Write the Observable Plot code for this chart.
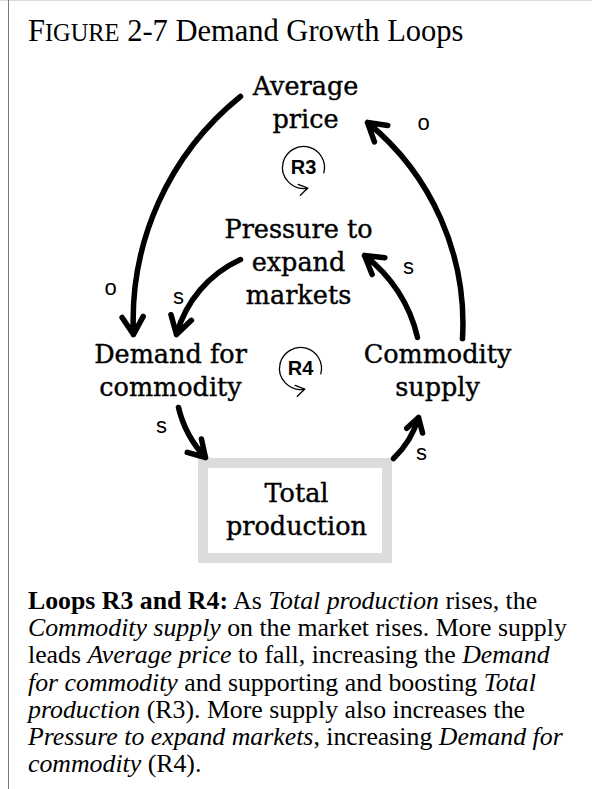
<!DOCTYPE html>
<html><head><meta charset="utf-8">
<script src="https://cdn.jsdelivr.net/npm/d3@7"></script>
<script src="https://cdn.jsdelivr.net/npm/@observablehq/plot@0.6"></script>
<style>
body{margin:0;background:#fff;}
#page{position:relative;width:592px;height:789px;overflow:hidden;background:#fff;}
#frameTop{position:absolute;left:0;top:0;width:592px;height:1px;background:#dadada;}
#frameLeft{position:absolute;left:8px;top:0;width:1px;height:789px;background:#7a7a7a;z-index:2;}
#title{position:absolute;left:28px;top:14px;font-family:"Liberation Serif",serif;font-size:30.5px;white-space:nowrap;color:#000;}
#title .sc{font-size:0.8em;}
#chart{position:absolute;left:0;top:50px;}
#caption{position:absolute;left:28px;top:587px;font-family:"Liberation Serif",serif;font-size:25.8px;line-height:27.2px;white-space:nowrap;color:#000;}
</style></head>
<body>
<div id="page">
  <div id="frameTop"></div>
  <div id="frameLeft"></div>
  <div id="title">F<span class="sc">IGURE</span> 2-7 Demand Growth Loops</div>
  <div id="chart"></div>
  <div id="caption"><b>Loops R3 and R4:</b> As <i>Total production</i> rises, the<br><i>Commodity supply</i> on the market rises. More supply<br>leads <i>Average price</i> to fall, increasing the <i>Demand</i><br><i>for commodity</i> and supporting and boosting <i>Total</i><br><i>production</i> (R3). More supply also increases the<br><i>Pressure to expand markets</i>, increasing <i>Demand for</i><br><i>commodity</i> (R4).</div>
</div>
<script>
// ---- data ----
const nodeLabels = ["Average\nprice", "Pressure to\nexpand\nmarkets", "Demand for\ncommodity", "Commodity\nsupply", "Total\nproduction"];
const nodeX = [305, 298, 170, 437, 296];
const nodeY = [100, 260, 368, 368, 507];

// causal links (start -> end), bend in degrees
const linkX1 = [240, 462, 240, 417, 178, 393];
const linkY1 = [96, 338, 259, 337, 407, 458];
const linkX2 = [133, 367, 176, 364, 205, 418];
const linkY2 = [334, 122, 334, 255, 457, 417];
const linkBend = [-27, -27, -25, -20, -15, -15];

// polarity labels
const polarity = ["o", "s", "o", "s", "s", "s"];
const polX = [423, 408, 110, 178, 161, 421];
const polY = [122, 266, 287, 296, 425, 452];

// loop identifiers
const loopNames = ["R3", "R4"];
const loopX = [303, 300];
const loopY = [167, 368];
const loopR = [21, 21];

// box around the stock
const boxX1 = [203], boxX2 = [387], boxY1 = [463], boxY2 = [558];

// ---- build ----
const W = 592, TOP = 50, H = 520;
const nodes = nodeLabels.map((t, i) => ({t, x: nodeX[i], y: nodeY[i]}));
const links = linkX1.map((_, i) => ({x1: linkX1[i], y1: linkY1[i], x2: linkX2[i], y2: linkY2[i], bend: linkBend[i]}));
const pols = polarity.map((t, i) => ({t, x: polX[i], y: polY[i]}));
const boxes = boxX1.map((_, i) => ({x1: boxX1[i], x2: boxX2[i], y1: boxY1[i], y2: boxY2[i]}));
const rad = Math.PI / 180;
const pt = (i, a) => [loopX[i] + loopR[i] * Math.cos(a * rad), loopY[i] + loopR[i] * Math.sin(a * rad)];
const loopArcA = [], loopArcB = [];
loopNames.forEach((n, i) => {
  const a = pt(i, 15), b = pt(i, -165), c = pt(i, -282);
  loopArcA.push({x1: a[0], y1: a[1], x2: b[0], y2: b[1]});
  loopArcB.push({x1: b[0], y1: b[1], x2: c[0], y2: c[1]});
});
const loops = loopNames.map((t, i) => ({t, x: loopX[i], y: loopY[i]}));

const marks = [
  Plot.rect(boxes, {x1: "x1", x2: "x2", y1: "y1", y2: "y2", fill: "white", stroke: "#dcdcdc", strokeWidth: 10}),
  ...links.map(d => Plot.arrow([d], {x1: "x1", y1: "y1", x2: "x2", y2: "y2", bend: d.bend, stroke: "black", strokeWidth: 5.5, headLength: 5.6, headAngle: 62, strokeLinecap: "round", strokeLinejoin: "round"})),
  Plot.arrow(loopArcA, {x1: "x1", y1: "y1", x2: "x2", y2: "y2", bend: -90, stroke: "black", strokeWidth: 1.3, headLength: 0}),
  Plot.arrow(loopArcB, {x1: "x1", y1: "y1", x2: "x2", y2: "y2", bend: -58, stroke: "black", strokeWidth: 1.3, headLength: 12, headAngle: 64}),
  Plot.text(nodes, {x: "x", y: "y", text: "t", fontFamily: "DejaVu Serif", fontSize: 25.5, lineHeight: 1.3, lineAnchor: "middle", textAnchor: "middle", fill: "black", stroke: "black", strokeWidth: 0.4}),
  Plot.text(pols, {x: "x", y: "y", text: "t", fontFamily: "Liberation Sans", fontSize: 22, lineAnchor: "middle", textAnchor: "middle", fill: "black"}),
  Plot.text(loops, {x: "x", y: "y", text: "t", fontFamily: "Liberation Sans", fontWeight: "bold", fontSize: 20, lineAnchor: "middle", textAnchor: "middle", fill: "black"})
];

const svg = Plot.plot({
  width: W, height: H, margin: 0,
  x: {domain: [0, W], range: [0, W], axis: null},
  y: {domain: [TOP, TOP + H], range: [0, H], axis: null},
  style: {background: "transparent", overflow: "visible"},
  marks
});
document.getElementById("chart").appendChild(svg);
</script>
</body></html>
